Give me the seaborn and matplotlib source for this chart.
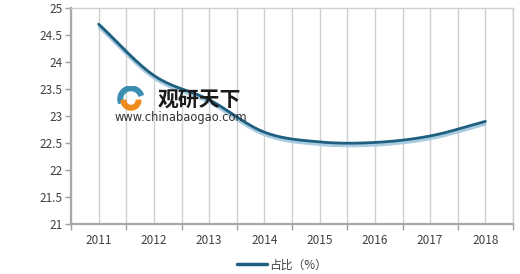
import numpy as np
import pandas as pd
import matplotlib
matplotlib.use("Agg")
import matplotlib.pyplot as plt
import seaborn as sns
from matplotlib.patches import Wedge

years = ["2011", "2012", "2013", "2014", "2015", "2016", "2017", "2018"]
share = [24.7, 23.75, 23.3, 22.7, 22.52, 22.51, 22.63, 22.9]
y_ticks = [21, 21.5, 22, 22.5, 23, 23.5, 24, 24.5, 25]
y_labels = ["21", "21.5", "22", "22.5", "23", "23.5", "24", "24.5", "25"]
legend_label = "占比（%）"

sns.set_theme(style="white")
plt.rcParams['font.family'] = ['Noto Sans CJK SC', 'DejaVu Sans']

# smooth curve (Catmull-Rom) through the data points, like Excel's smoothed line
xs = np.arange(len(share), dtype=float)
ys = np.array(share, dtype=float)
px = np.concatenate([[2 * xs[0] - xs[1]], xs, [2 * xs[-1] - xs[-2]]])
py = np.concatenate([[2 * ys[0] - ys[1]], ys, [2 * ys[-1] - ys[-2]]])
sx, sy = [], []
for i in range(1, len(px) - 2):
    t = np.linspace(0, 1, 30, endpoint=(i == len(px) - 3))
    for arr, out in ((px, sx), (py, sy)):
        p0, p1, p2, p3 = arr[i - 1], arr[i], arr[i + 1], arr[i + 2]
        out.extend(0.5 * ((2 * p1) + (-p0 + p2) * t + (2 * p0 - 5 * p1 + 4 * p2 - p3) * t ** 2
                          + (-p0 + 3 * p1 - 3 * p2 + p3) * t ** 3))
curve = pd.DataFrame({"x": sx, "y": sy})

fig = plt.figure(figsize=(5.2, 2.74), dpi=100)
ax = fig.add_axes([71 / 520, 1 - 224 / 274, 442 / 520, 216 / 274])

# light outline/shadow then dark line
ax.plot(curve["x"] + 0.01, curve["y"] - 0.03, color="#a9cbe0", lw=3.6, solid_capstyle="butt", zorder=3)
sns.lineplot(data=curve, x="x", y="y", ax=ax, color="#1f5f80", lw=2.0, sort=False,
             estimator=None, zorder=4)

ax.set_xlim(-0.5, len(years) - 0.5)
ax.set_ylim(21, 25)
ax.set_xticks(range(len(years)))
ax.set_xticklabels(years)
ax.set_xticks(np.arange(-0.5, len(years) + 0.5, 1.0), minor=True)
ax.set_yticks(y_ticks)
ax.set_yticklabels(y_labels)
ax.set_xlabel("")
ax.set_ylabel("")

ax.grid(False)
ax.xaxis.grid(True, which="both", color="#d0d0d0", lw=1.0, zorder=0)
ax.set_axisbelow(True)

ax.tick_params(axis="x", which="major", length=0, labelsize=8.5, labelcolor="#404040", pad=7)
ax.tick_params(axis="x", which="minor", length=4, width=1.0, color="#a0a0a0", direction="out", bottom=True)
ax.tick_params(axis="y", which="major", length=4, width=1.0, color="#a0a0a0", direction="out", left=True,
               labelsize=8.5, labelcolor="#404040", pad=2)

for side in ["left", "bottom"]:
    ax.spines[side].set_color("#a8a8a8")
    ax.spines[side].set_linewidth(1.6)
for side in ["top", "right"]:
    ax.spines[side].set_color("#d0d0d0")
    ax.spines[side].set_linewidth(1.0)

# watermark
fig.text(158 / 520, 1 - 100 / 274, "观研天下", fontsize=15, fontweight="bold", color="#1a1a1a",
         va="center", ha="left")
fig.text(115 / 520, 1 - 117 / 274, "www.chinabaogao.com", fontsize=8.3, color="#333333",
         va="center", ha="left", family=["DejaVu Sans"])
wax = fig.add_axes([114 / 520, 1 - 112 / 274, 34 / 520, 26 / 274])
wax.set_xlim(-1.3, 1.3); wax.set_ylim(-1, 1); wax.axis("off")
wax.add_patch(Wedge((0, 0.0), 1.0, 20, 200, width=0.35, color="#3a8fb0"))
wax.add_patch(Wedge((0, -0.1), 0.75, 180, 360, width=0.35, color="#f08a1c"))

# legend
handle = plt.Line2D([], [], color="#1f5f80", lw=2.5)
leg = fig.legend([handle], [legend_label], loc="center", bbox_to_anchor=(282 / 520, 1 - 265 / 274),
                 frameon=False, fontsize=8.5, handlelength=2.6, handletextpad=0.2)
for t in leg.get_texts():
    t.set_color("#404040")

fig.savefig("out.png", dpi=100)
